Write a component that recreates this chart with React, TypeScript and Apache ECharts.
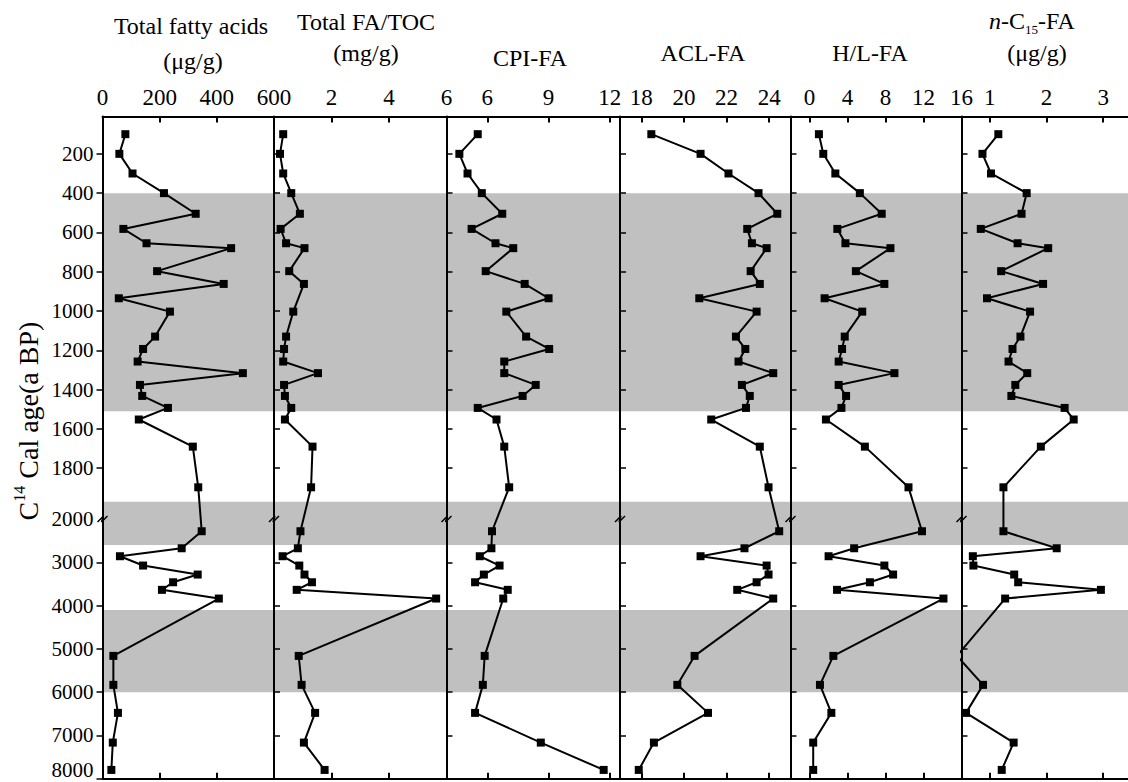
import React, { useEffect, useRef } from "react";
import * as echarts from "echarts";

// Sample ages (a BP)
const AGES = [100, 200, 300, 400, 505, 582, 655, 680, 797, 862, 935, 1003, 1130, 1193, 1257, 1316, 1376, 1432, 1493, 1552, 1690, 1897, 2284, 2677, 2861, 3076, 3284, 3462, 3637, 3838, 5162, 5831, 6478, 7164, 7795];

const TOTAL_FA = [80, 59, 105, 215, 326, 73, 154, 450, 191, 424, 57, 236, 184, 142, 123, 491, 131, 139, 229, 127, 316, 335, 347, 277, 61, 142, 333, 247, 208, 407, 38, 38, 54, 36, 31];
const FA_TOC = [0.32, 0.21, 0.32, 0.6, 0.9, 0.23, 0.42, 1.06, 0.53, 1.04, null, 0.67, 0.42, 0.35, 0.32, 1.53, 0.35, 0.38, 0.6, 0.38, 1.34, 1.29, 0.92, 0.83, 0.3, 0.88, 1.06, 1.32, 0.79, 5.64, 0.86, 0.96, 1.43, 1.04, 1.76];
const CPI = [5.53, 4.63, 5.03, 5.73, 6.73, 5.23, 6.4, 7.27, 5.92, 7.83, 9.0, 6.93, 7.9, 9.03, 6.83, 6.83, 8.37, 7.73, 5.53, 6.45, 6.83, 7.07, 6.23, 6.2, 5.63, 6.6, 5.83, 5.4, 7.0, 6.78, 5.87, 5.78, 5.4, 8.62, 11.7];
const ACL = [18.47, 20.78, 22.09, 23.5, 24.38, 22.97, 23.19, 23.88, 23.13, 23.56, 20.72, 23.41, 22.44, 22.88, 22.56, 24.19, 22.72, 23.09, 22.91, 21.28, 23.56, 23.97, 24.47, 22.84, 20.78, 23.88, 23.97, 23.41, 22.5, 24.19, 20.5, 19.69, 21.13, 18.59, 17.88];
const HL = [0.99, 1.45, 2.72, 5.3, 7.6, 2.93, 3.78, 8.52, 4.88, 7.88, 1.59, 5.55, 3.71, 3.43, 3.07, 8.94, 3.07, 3.85, 3.36, 1.73, 5.83, 10.42, 11.84, 4.7, 2.01, 7.88, 8.8, 6.36, 2.9, 14.1, 2.51, 1.1, 2.3, 0.39, 0.39];
const NC15 = [1.15, 0.87, 1.02, 1.65, 1.56, 0.84, 1.49, 2.03, 1.2, 1.94, 0.95, 1.71, 1.54, 1.4, 1.33, 1.66, 1.45, 1.38, 2.32, 2.48, 1.9, 1.24, 1.24, 2.18, 0.7, 0.71, 1.43, 1.5, 2.96, 1.27, 0.42, 0.88, 0.58, 1.42, 1.21];

// Y axis tick labels (ages)
const Y_TICK_AGES = [200, 400, 600, 800, 1000, 1200, 1400, 1600, 1800, 2000, 3000, 4000, 5000, 6000, 7000, 8000];
const Y_TOP_AGE = 10;
const Y_BOTTOM_AGE = 8000;
const BREAK_AGE = 2000;

// Shaded intervals (ages)
const SHADED = [
  [400, 1510],
  [1970, 2600],
  [4100, 6000],
];

// X tick values per panel
const TICKS_TFA = [0, 200, 400, 600];
const TICKS_TOC = [2, 4, 6];
const TICKS_CPI = [6, 9, 12];
const TICKS_ACL = [18, 20, 22, 24];
const TICKS_HL = [0, 4, 8, 12, 16];
const TICKS_NC = [1, 2, 3];

// broken-scale transform: upper part stretched, lower part (>2000) compressed
const BREAK_GAP = 58;
const LOWER_RATIO = 0.2204;
function toD(age: number) {
  return age < BREAK_AGE ? age : BREAK_AGE + BREAK_GAP + (age - BREAK_AGE) * LOWER_RATIO;
}

const FONT = "'Liberation Serif', 'Times New Roman', serif";

const PANELS = [
  { values: TOTAL_FA, min: 0, max: 600, ticks: TICKS_TFA, left: 102.5, width: 171.5 },
  { values: FA_TOC, min: 0, max: 6, ticks: TICKS_TOC, left: 274, width: 172.5 },
  { values: CPI, min: 4, max: 12.5, ticks: TICKS_CPI, left: 446.5, width: 173.5 },
  { values: ACL, min: 17, max: 25, ticks: TICKS_ACL, left: 620, width: 170.5 },
  { values: HL, min: -2, max: 16, ticks: TICKS_HL, left: 790.5, width: 171 },
  { values: NC15, min: 0.5, max: 3.5, ticks: TICKS_NC, left: 961.5, width: 170 },
];

const GRID_TOP = 116.5;
const GRID_HEIGHT = 662.3;

function buildOption() {
  const black = "#000";
  const yMin = toD(Y_TOP_AGE);
  const yMax = toD(Y_BOTTOM_AGE);
  const yLabelDs = Y_TICK_AGES.map(toD);
  const yTickDs = Y_TICK_AGES.filter((a) => a !== BREAK_AGE).map(toD);
  const yFormatter = (v: number) => {
    const a = Y_TICK_AGES.find((t) => Math.abs(toD(t) - v) < 0.5);
    if (a === undefined) return "";
    return a === Y_BOTTOM_AGE ? `{low|${a}}` : String(a);
  };

  const grid: any[] = [];
  const xAxis: any[] = [];
  const yAxis: any[] = [];
  const series: any[] = [];

  PANELS.forEach((p, i) => {
    grid.push({
      left: p.left,
      top: GRID_TOP,
      width: p.width,
      height: GRID_HEIGHT,
      containLabel: false,
      outerBoundsMode: "none",
    });
    const lineStyle = { color: black, width: 2 };
    xAxis.push({
      type: "value",
      gridIndex: i,
      position: "top",
      min: p.min,
      max: p.max,
      z: 10,
      axisLine: { show: true, onZero: false, lineStyle },
      axisTick: { show: true, inside: true, length: 6, customValues: p.ticks, lineStyle },
      axisLabel: { show: true, customValues: p.ticks, fontSize: 23, fontFamily: FONT, color: black, margin: 8 },
      splitLine: { show: false },
    });
    xAxis.push({
      type: "value",
      gridIndex: i,
      position: "bottom",
      min: p.min,
      max: p.max,
      z: 10,
      axisLine: { show: true, onZero: false, lineStyle },
      axisTick: { show: true, inside: true, length: 6, customValues: p.ticks, lineStyle },
      axisLabel: { show: false },
      splitLine: { show: false },
    });
    yAxis.push({
      type: "value",
      gridIndex: i,
      inverse: true,
      min: yMin,
      max: yMax,
      z: 10,
      axisLine: { show: true, onZero: false, lineStyle },
      axisTick: { show: true, inside: i > 0, length: 6, customValues: yTickDs, lineStyle: { color: black, width: 1.5 } },
      axisLabel: {
        show: i === 0,
        customValues: yLabelDs,
        formatter: yFormatter,
        fontSize: 21,
        fontFamily: FONT,
        color: black,
        margin: 9,
        rich: {
          low: { fontSize: 21, fontFamily: FONT, color: black, padding: [0, 0, 18, 0] },
        },
      },
      splitLine: { show: false },
    });
    const data: number[][] = [];
    AGES.forEach((a, k) => {
      const v = p.values[k];
      if (v !== null && v !== undefined) data.push([v as number, toD(a)]);
    });
    series.push({
      type: "line",
      xAxisIndex: 2 * i,
      yAxisIndex: i,
      data,
      clip: true,
      symbol: "rect",
      symbolSize: 8,
      lineStyle: { color: black, width: 2 },
      itemStyle: { color: black },
      z: 3,
      markArea: {
        silent: true,
        itemStyle: { color: "#c0c0c0", opacity: 1 },
        data: SHADED.map(([a, b]) => [{ yAxis: toD(a) }, { yAxis: toD(b) }]),
      },
    });
  });

  return {
    animation: false,
    backgroundColor: "#fff",
    grid,
    xAxis,
    yAxis,
    series,
  };
}

function textEl(text: string, x: number, y: number, size: number) {
  return {
    type: "text",
    x,
    y,
    z: 50,
    style: {
      text,
      fill: "#000",
      font: `${size}px ${FONT}`,
      align: "center",
      verticalAlign: "middle",
    },
  };
}

export default function App() {
  const ref = useRef<HTMLDivElement>(null);
  useEffect(() => {
    document.body.style.margin = "0";
    const chart = echarts.init(ref.current!, null, { renderer: "svg" });
    chart.setOption(buildOption() as any);

    const breakD = toD(BREAK_AGE);
    const marks = PANELS.map((p, i) => {
      const pt = chart.convertToPixel({ seriesIndex: i } as any, [p.min, breakD]) as number[];
      const x = pt[0];
      const y = pt[1];
      return {
        type: "polyline",
        z: 60,
        shape: { points: [[x - 5, y + 3], [x + 1, y - 3], [x - 1, y + 3], [x + 5, y - 3]] },
        style: { stroke: "#000", lineWidth: 1.5, fill: null },
      };
    });

    const rich24 = { fontSize: 24, fontFamily: FONT, fill: "#000", lineHeight: 30 };
    const graphics: any[] = [
      textEl("Total fatty acids", 191, 26, 24),
      textEl("(μg/g)", 193, 61, 24),
      textEl("Total FA/TOC", 366, 22, 24),
      textEl("(mg/g)", 366, 53, 24),
      textEl("CPI-FA", 530, 58, 24),
      textEl("ACL-FA", 703, 53, 24),
      textEl("H/L-FA", 870, 53, 24),
      {
        type: "text",
        x: 1032,
        y: 21,
        z: 50,
        style: {
          text: "{i|n}{a|-C}{s|15}{a|-FA}",
          align: "center",
          verticalAlign: "middle",
          rich: {
            i: { ...rich24, fontStyle: "italic" },
            a: rich24,
            s: { fontSize: 13, fontFamily: FONT, fill: "#000", verticalAlign: "bottom", lineHeight: 13 },
          },
        },
      },
      textEl("(μg/g)", 1037, 53, 24),
      {
        type: "text",
        x: 28,
        y: 421,
        rotation: Math.PI / 2,
        z: 50,
        style: {
          text: "{a|C}{s|14}{a| Cal age(a BP)}",
          align: "center",
          verticalAlign: "middle",
          rich: {
            a: { fontSize: 28, fontFamily: FONT, fill: "#000", lineHeight: 34 },
            s: { fontSize: 16, fontFamily: FONT, fill: "#000", verticalAlign: "top", lineHeight: 16 },
          },
        },
      },
      ...marks,
    ];
    chart.setOption({ graphic: graphics } as any);
    return () => chart.dispose();
  }, []);
  return <div ref={ref} style={{ width: 1128, height: 782 }} />;
}
